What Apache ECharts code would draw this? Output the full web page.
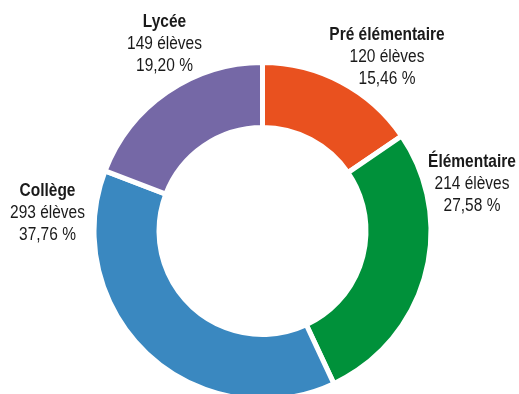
<!DOCTYPE html>
<html>
<head>
<meta charset="utf-8">
<script src="https://cdn.jsdelivr.net/npm/echarts@6/dist/echarts.min.js"></script>
<style>
  html, body { margin: 0; padding: 0; background: #fff; }
  #chart { width: 519px; height: 394px; }
</style>
</head>
<body>
<div id="chart"></div>
<script>
// Répartition des élèves par niveau
const niveaux = ['Pré élémentaire', 'Élémentaire', 'Collège', 'Lycée'];
const eleves = [120, 214, 293, 149];
const pourcentages = ['15,46', '27,58', '37,76', '19,20'];
const couleurs = ['#E9511F', '#00913A', '#3A88C0', '#7568A6'];

const FONT = '"Liberation Sans", Arial, sans-serif';

// label block centres (px), one per slice; text is narrowed horizontally
const labelCentres = [[387, 57], [472, 184], [47.5, 213], [164.5, 44]];
const NARROW = 0.86;

const chart = echarts.init(document.getElementById('chart'), null, { renderer: 'canvas' });

const labels = niveaux.map((n, i) => ({
  type: 'text',
  x: labelCentres[i][0],
  y: labelCentres[i][1],
  scaleX: NARROW,
  scaleY: 1,
  silent: true,
  style: {
    text: '{n|' + n + '}\n{v|' + eleves[i] + ' élèves}\n{v|' + pourcentages[i] + ' %}',
    align: 'center',
    verticalAlign: 'middle',
    rich: {
      n: { fontFamily: FONT, fontSize: 18, fontWeight: 'bold', fill: '#1a1a1a', lineHeight: 22, align: 'center' },
      v: { fontFamily: FONT, fontSize: 18, fill: '#1a1a1a', lineHeight: 22, align: 'center' }
    }
  }
}));

chart.setOption({
  animation: false,
  graphic: labels,
  series: [{
    type: 'pie',
    center: [262.5, 231],
    radius: [103.5, 168.5],
    startAngle: 90,
    clockwise: true,
    itemStyle: { borderColor: '#ffffff', borderWidth: 5 },
    emphasis: { disabled: true },
    label: { show: false },
    labelLine: { show: false },
    data: niveaux.map((n, i) => ({ name: n, value: eleves[i], itemStyle: { color: couleurs[i] } }))
  }]
});
</script>
</body>
</html>
